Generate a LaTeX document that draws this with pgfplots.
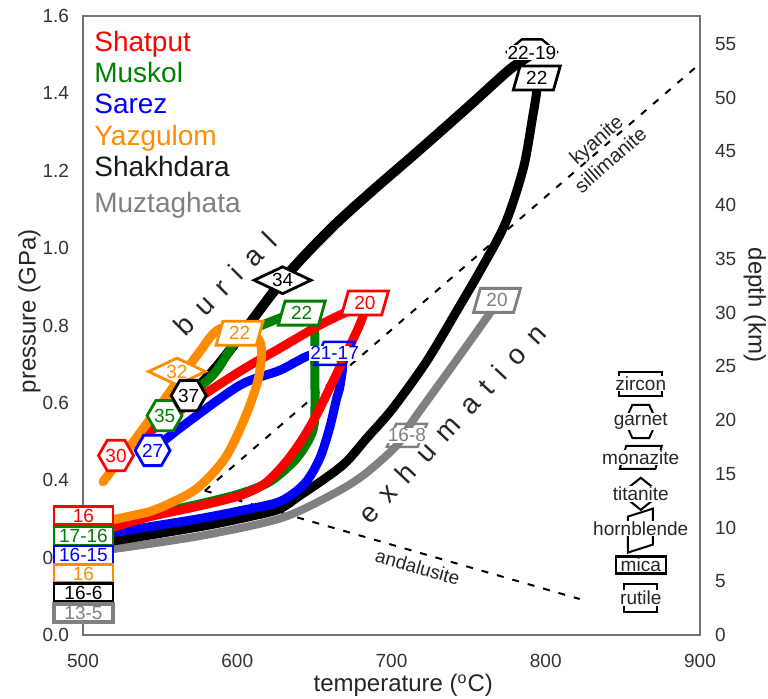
\documentclass[border=0pt]{standalone}
\usepackage{fontspec}
\setmainfont{Liberation Sans}
\usepackage{pgfplots}
\pgfplotsset{compat=1.18}
\usetikzlibrary{shapes.geometric,calc}
\definecolor{shat}{RGB}{255,0,0}
\definecolor{musk}{RGB}{0,128,0}
\definecolor{sarz}{RGB}{0,0,255}
\definecolor{yazg}{RGB}{255,140,0}
\definecolor{muzt}{RGB}{128,128,128}
\newcommand{\fs}[1]{\fontsize{#1}{#1}\selectfont}
\tikzset{
  lb/.style={font=\fs{9.5}, fill=white, line width=1.4pt, inner sep=0pt},
  hexa/.style={lb, regular polygon, regular polygon sides=6, minimum size=17.5pt},
  dia/.style={lb, diamond, aspect=2, minimum width=29pt, minimum height=14pt},
  para/.style={lb, trapezium, trapezium left angle=72, trapezium right angle=108,
    trapezium stretches=true, minimum width=23.5pt, minimum height=12pt},
  mbox/.style={lb, rectangle, minimum width=29.5pt, minimum height=9pt},
  brk/.style={trapezium, trapezium left angle=71, trapezium right angle=109,
    trapezium stretches=true, line width=1.2pt, minimum width=20pt, minimum height=11.5pt, inner sep=0pt},
  wt/.style={font=\fs{9.5}, fill=white, inner sep=0.4pt},
  pth/.style={line width=4.5pt, smooth, line cap=round, line join=round},
  leg/.style={anchor=base west, inner sep=0pt, font=\fs{14}},
}
\begin{document}
\begin{tikzpicture}
\begin{axis}[name=ax, set layers, scale only axis, width=308.5pt, height=309.5pt,
  xmin=500, xmax=900, ymin=0, ymax=1.6, clip=false, no markers,
  xtick={500,600,700,800,900}, ytick={0,0.2,0.4,0.6,0.8,1.0,1.2,1.4,1.6},
  ytick pos=left, xtick pos=bottom, major tick length=0pt,
  axis line style={draw=black!55, line width=0.8pt},
  tick label style={font=\fs{9.5}, text=black!80},
  /pgf/number format/assume math mode=true,
  yticklabel style={/pgf/number format/fixed, /pgf/number format/fixed zerofill,
    /pgf/number format/precision=1, anchor=east, xshift=-3.5pt},
  xticklabel style={anchor=north, yshift=-6pt},
  xlabel={temperature (\textsuperscript{o}C)}, ylabel={pressure (GPa)},
  label style={font=\fs{12}, text=black!85},
  xlabel style={at={(axis description cs:0.519,-0.082)}, anchor=center},
  ylabel style={at={(axis description cs:-0.087,0.523)}, anchor=center},
]
% aluminosilicate reactions
\addplot[black, line width=1pt, dash pattern=on 3.5pt off 4.5pt] coordinates {(579,0.373) (900,1.477)};
\addplot[black, line width=1pt, dash pattern=on 3.5pt off 4.5pt] coordinates {(579,0.373) (822,0.093)};

% P-T paths
\addplot[muzt, pth, line width=4pt] coordinates {(519.4,0.222) (575.8,0.256) (627.6,0.301) (660,0.360) (681.4,0.412) (703.4,0.490) (713.8,0.554) (739.7,0.697) (765,0.839) (768.2,0.865)};
\addplot[black, pth, line width=5pt] coordinates {(568.5,0.619) (588.5,0.702) (629.4,0.917) (659.8,1.047) (685.8,1.142) (718.2,1.254) (750.5,1.368) (776.4,1.461) (790.7,1.500)};
\addplot[black, pth] coordinates {(794.2,1.440) (794.2,1.407) (791.4,1.337) (785.5,1.207) (773.9,1.065) (758.4,0.948) (742.2,0.837) (722.7,0.707) (700.7,0.585) (683.8,0.508) (670.8,0.448) (658.5,0.409) (640.4,0.360) (627.5,0.326) (608,0.306) (575.8,0.280) (519.4,0.243)};
\addplot[sarz, pth] coordinates {(545.1,0.477) (562.6,0.534) (601.5,0.645) (627.5,0.684) (646.9,0.723) (663.1,0.728)};
\addplot[sarz, pth] coordinates {(663.1,0.728) (668.3,0.702) (666.3,0.637) (664.4,0.611) (659.8,0.534) (653.4,0.456) (643.6,0.391) (627.5,0.345) (601.5,0.321) (575.8,0.301) (543.4,0.280) (519.4,0.265)};
\addplot[musk, pth] coordinates {(552.9,0.567) (584,0.671) (601.5,0.769) (627.5,0.819) (641.8,0.832)};
\addplot[musk, pth] coordinates {(641.8,0.832) (649.6,0.801) (650.2,0.715) (650.2,0.560) (646.9,0.508) (637.2,0.451) (621,0.396) (601.5,0.365) (575.8,0.339) (543.4,0.311) (519.4,0.290)};
\addplot[shat, pth] coordinates {(521.4,0.464) (564.6,0.585) (601.5,0.681) (627.5,0.741) (653.4,0.801) (672.9,0.839) (682.6,0.858)};
\addplot[shat, pth] coordinates {(682.6,0.858) (680.7,0.815) (670.8,0.728) (659.8,0.637) (650.2,0.560) (640.4,0.495) (630.7,0.443) (617.7,0.391) (601.5,0.360) (575.8,0.334) (543.4,0.306) (519.4,0.278)};
\addplot[yazg, pth] coordinates {(513,0.396) (532.4,0.498) (551.9,0.604) (562.6,0.663) (575.8,0.733) (584,0.777) (590.7,0.793) (601.5,0.780)};
\addplot[yazg, pth] coordinates {(601.5,0.780) (613.2,0.767) (615.8,0.728) (613.2,0.655) (604.8,0.560) (591.9,0.456) (573.6,0.378) (551.9,0.332) (543.4,0.319) (519.4,0.298)};

% reaction names and path words
\node[rotate=41, font=\fs{10}, text=black!85] at (axis cs:833.4,1.277) {kyanite};
\node[rotate=41, font=\fs{10}, text=black!85] at (axis cs:841.8,1.228) {sillimanite};
\node[rotate=-16, font=\fs{9.5}, text=black!85] at (axis cs:717,0.176) {andalusite};
\node[rotate=45, font=\fs{14}, text=black!85] at (axis cs:592,0.908) {b\hspace{0.45em}u\hspace{0.45em}r\hspace{0.45em}i\hspace{0.45em}a\hspace{0.45em}l};
\node[rotate=47, font=\fs{14}, text=black!85] at (axis cs:739,0.547) {e\hspace{0.46em}x\hspace{0.46em}h\hspace{0.46em}u\hspace{0.46em}m\hspace{0.46em}a\hspace{0.46em}t\hspace{0.46em}i\hspace{0.46em}o\hspace{0.46em}n};

% legend
\node[leg, text=shat] at (axis cs:507.1,1.507) {Shatput};
\node[leg, text=musk] at (axis cs:507.1,1.427) {Muskol};
\node[leg, text=sarz] at (axis cs:507.1,1.347) {Sarez};
\node[leg, text=yazg] at (axis cs:507.1,1.266) {Yazgulom};
\node[leg, text=black!90] at (axis cs:507.1,1.184) {Shakhdara};
\node[leg, text=muzt] at (axis cs:507.1,1.091) {Muztaghata};

% age labels on the paths
\node[hexa, draw=shat, text=shat] at (axis cs:521.4,0.464) {30};
\node[hexa, draw=sarz, text=sarz] at (axis cs:545.1,0.477) {27};
\node[hexa, draw=musk, text=musk] at (axis cs:552.9,0.567) {35};
\node[dia, draw=yazg, text=yazg] at (axis cs:560.9,0.681) {32};
\node[hexa, draw=black, text=black] at (axis cs:568.5,0.619) {37};
\node[para, draw=yazg, text=yazg] at (axis cs:601.5,0.780) {22};
\node[dia, draw=black, text=black] at (axis cs:629.4,0.917) {34};
\node[para, draw=musk, text=musk] at (axis cs:641.8,0.832) {22};
\node[para, draw=shat, text=shat] at (axis cs:682.8,0.858) {20};
\node[brk, draw=sarz] at (axis cs:663.1,0.728) {\phantom{1}};
\node[wt, text=sarz] at (axis cs:663.1,0.728) {21-17};
\node[para, draw=muzt, text=muzt] at (axis cs:768.4,0.865) {20};
\node[brk, draw=muzt] at (axis cs:710,0.516) {\phantom{1}};
\node[wt, text=muzt] at (axis cs:710,0.516) {16-8};
\draw[black, line width=1.2pt] ($(axis cs:791,1.505)+(-13pt,0pt)$) -- ++(8pt,6.7pt) -- ++(10pt,0pt) -- ++(8pt,-6.7pt);
\node[wt] at (axis cs:791,1.505) {22-19};
\node[para, draw=black, text=black] at (axis cs:794.2,1.44) {22};

% left stack of boxes
\node[mbox, draw=shat, text=shat] at (axis cs:500.3,0.308) {16};
\node[mbox, draw=musk, text=musk] at (axis cs:500.3,0.256) {17-16};
\node[mbox, draw=sarz, text=sarz] at (axis cs:500.3,0.207) {16-15};
\node[mbox, draw=yazg, text=yazg] at (axis cs:500.3,0.158) {16};
\node[mbox, draw=black, text=black] at (axis cs:500.3,0.109) {16-6};
\node[mbox, draw=muzt, text=muzt, line width=2pt] at (axis cs:500.3,0.056) {13-5};

% mineral key
\node[draw, line width=1pt, minimum width=21.5pt, minimum height=12pt, inner sep=0pt] at (axis cs:861.6,0.650) {};
\node[wt, text=black!85] at (axis cs:861.6,0.650) {zircon};
\draw[line width=1pt] ($(axis cs:861.6,0.552)+(-8pt,0pt)$) -- ++(3.8pt,8.3pt) -- ++(8.4pt,0pt) -- ++(3.8pt,-8.3pt) -- ++(-3.8pt,-8.3pt) -- ++(-8.4pt,0pt) -- cycle;
\node[wt, text=black!85] at (axis cs:861.6,0.552) {garnet};
\node[trapezium, trapezium left angle=80, trapezium right angle=100, trapezium stretches=true, draw, line width=1pt, minimum width=21pt, minimum height=11.5pt, inner sep=0pt] at (axis cs:861.6,0.459) {\phantom{1}};
\node[wt, text=black!85] at (axis cs:861.6,0.459) {monazite};
\draw[line width=1pt] ($(axis cs:861.6,0.365)+(-10pt,0pt)$) -- ++(10pt,8pt) -- ++(10pt,-8pt) -- ++(-10pt,-8pt) -- cycle;
\node[wt, text=black!85] at (axis cs:861.6,0.365) {titanite};
\draw[line width=1pt] ($(axis cs:861.6,0.275)+(-6.5pt,6pt)$) -- ++(12.5pt,4pt) -- ++(0pt,-18pt) -- ++(-12.5pt,-4pt) -- cycle;
\node[wt, text=black!85] at (axis cs:861.6,0.275) {hornblende};
\node[draw, fill=white, line width=1.2pt, minimum width=25pt, minimum height=8.5pt, inner sep=0pt, font=\fs{9.5}, text=black!85] at (axis cs:861.6,0.181) {mica};
\node[draw, line width=1.2pt, minimum width=16.5pt, minimum height=14pt, inner sep=0pt] at (axis cs:861.6,0.096) {};
\node[wt, text=black!85] at (axis cs:861.6,0.096) {rutile};
\end{axis}
\begin{axis}[scale only axis, width=308.5pt, height=309.5pt, at={(ax.south west)}, anchor=south west,
  xmin=500, xmax=900, ymin=0, ymax=57.6, axis x line=none, axis y line*=right,
  ytick={0,5,...,55}, major tick length=0pt,
  axis line style={draw=black!55, line width=0.8pt},
  tick label style={font=\fs{9.5}, text=black!80},
  /pgf/number format/assume math mode=true,
  yticklabel style={anchor=west, xshift=4pt},
  ylabel={depth (km)}, label style={font=\fs{12}, text=black!85},
  ylabel style={at={(axis description cs:1.089,0.533)}, anchor=center, rotate=180},
]
\end{axis}
\pgfresetboundingbox
\path[use as bounding box] ($(ax.south west)+(-41.5pt,-31.5pt)$) rectangle ($(ax.north east)+(34pt,8pt)$);
\end{tikzpicture}
\end{document}
